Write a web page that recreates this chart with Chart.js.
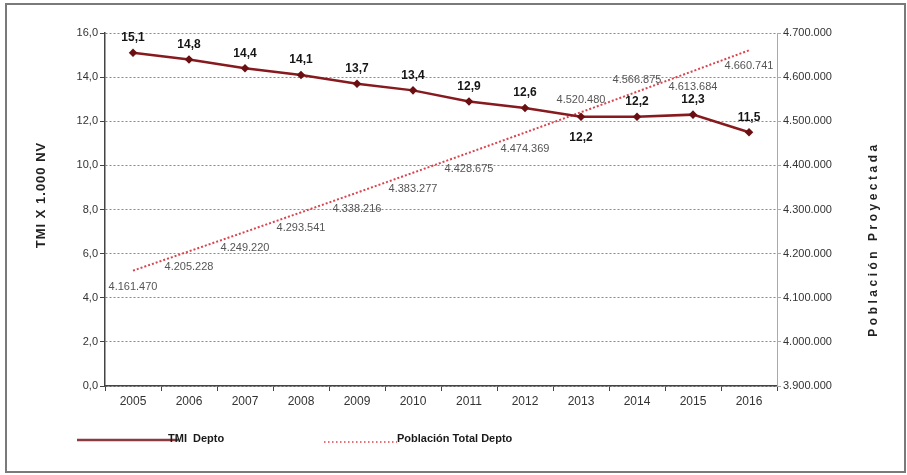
<!DOCTYPE html>
<html>
<head>
<meta charset="utf-8">
<script src="https://cdn.jsdelivr.net/npm/chart.js@4.4.1/dist/chart.umd.min.js"></script>
<style>
  html, body { margin: 0; padding: 0; background: #fff; }
  #wrap { width: 907px; height: 475px; }
</style>
</head>
<body>
<div id="wrap"><canvas id="tmiChart" width="907" height="475"></canvas></div>
<script>
const years = ['2005','2006','2007','2008','2009','2010','2011','2012','2013','2014','2015','2016'];

const tmiDepto = [15.1, 14.8, 14.4, 14.1, 13.7, 13.4, 12.9, 12.6, 12.2, 12.2, 12.3, 11.5];

const poblacionTotal = [
    4161470, 4205228, 4249220, 4293541, 4338216, 4383277,
    4428675, 4474369, 4520480, 4566875, 4613684, 4660741
];

const tmiTicks = { min: 0, max: 16, step: 2 };
const poblacionTicks = { min: 3900000, max: 4700000, step: 100000 };

// which points get their value written under / over the mark
const tmiLabelsBelow = [8];
const poblacionLabelsAbove = [8, 9];

const FONT = '"Liberation Sans", Arial, sans-serif';

function decimalComma(v) {
    return v.toFixed(1).replace('.', ',');
}

function thousandDots(v) {
    return String(Math.round(v)).replace(/\B(?=(\d{3})+(?!\d))/g, '.');
}

// white background + grey frame
const framePlugin = {
    id: 'frame',
    beforeDraw(chart) {
        const ctx = chart.ctx;
        ctx.save();
        ctx.fillStyle = '#fff';
        ctx.fillRect(0, 0, chart.width, chart.height);
        ctx.strokeStyle = '#7a7a7a';
        ctx.lineWidth = 2;
        ctx.strokeRect(6, 4, 899, 468);
        ctx.restore();
    }
};

// value labels on both lines
const valueLabels = {
    id: 'valueLabels',
    afterDatasetsDraw(chart) {
        const ctx = chart.ctx;
        ctx.save();
        ctx.textAlign = 'center';
        ctx.textBaseline = 'middle';

        const popMeta = chart.getDatasetMeta(1);
        ctx.font = '11px ' + FONT;
        ctx.fillStyle = '#555';
        popMeta.data.forEach((pt, i) => {
            const dy = poblacionLabelsAbove.includes(i) ? -12 : 16;
            ctx.fillText(thousandDots(poblacionTotal[i]), pt.x, pt.y + dy);
        });

        const tmiMeta = chart.getDatasetMeta(0);
        ctx.font = 'bold 12px ' + FONT;
        ctx.fillStyle = '#151515';
        tmiMeta.data.forEach((pt, i) => {
            const dy = tmiLabelsBelow.includes(i) ? 21 : -15;
            ctx.fillText(decimalComma(tmiDepto[i]), pt.x, pt.y + dy);
        });
        ctx.restore();
    }
};

// rotated axis titles and the legend under the plot
const sideText = {
    id: 'sideText',
    afterDraw(chart) {
        const ctx = chart.ctx;
        ctx.save();
        ctx.fillStyle = '#222';
        ctx.textAlign = 'center';
        ctx.textBaseline = 'middle';

        ctx.save();
        ctx.translate(41, 195);
        ctx.rotate(-Math.PI / 2);
        ctx.font = 'bold 13px ' + FONT;
        ctx.letterSpacing = '1px';
        ctx.fillText('TMI X 1.000 NV', 0, 0);
        ctx.restore();

        ctx.save();
        ctx.translate(874, 239);
        ctx.rotate(-Math.PI / 2);
        ctx.font = 'bold 12px ' + FONT;
        ctx.letterSpacing = '3.5px';
        ctx.fillText('Población Proyectada', 0, 0);
        ctx.restore();

        // legend
        const popDs = chart.data.datasets[1];
        const ly = 440;

        ctx.strokeStyle = '#8a3b3f';
        ctx.lineWidth = 2.5;
        ctx.beginPath();
        ctx.moveTo(77, ly);
        ctx.lineTo(178, ly);
        ctx.stroke();

        ctx.strokeStyle = popDs.borderColor;
        ctx.lineWidth = 1.5;
        ctx.setLineDash([1.5, 2.5]);
        ctx.beginPath();
        ctx.moveTo(324, ly + 2);
        ctx.lineTo(397, ly + 2);
        ctx.stroke();
        ctx.setLineDash([]);

        ctx.textAlign = 'left';
        ctx.font = 'bold 11px ' + FONT;
        ctx.fillStyle = '#1a1a1a';
        ctx.fillText('TMI  Depto', 168, ly - 1);
        ctx.fillText('Población Total Depto', 397, ly - 1);
        ctx.restore();
    }
};

new Chart(document.getElementById('tmiChart').getContext('2d'), {
    type: 'line',
    data: {
        labels: years,
        datasets: [{
            label: 'TMI Depto',
            data: tmiDepto,
            yAxisID: 'y',
            borderColor: '#861a1e',
            borderWidth: 2.5,
            pointStyle: 'rectRot',
            pointRadius: 2.5,
            pointBackgroundColor: '#6a0f12',
            pointBorderColor: '#6a0f12',
            tension: 0
        }, {
            label: 'Población Total Depto',
            data: poblacionTotal,
            yAxisID: 'y1',
            borderColor: '#d9454f',
            borderWidth: 2,
            borderDash: [2, 2],
            pointRadius: 0,
            tension: 0
        }]
    },
    options: {
        responsive: false,
        animation: false,
        layout: {
            padding: { top: 33, left: 0, right: 0, bottom: 61 }
        },
        plugins: {
            legend: { display: false },
            tooltip: { enabled: false }
        },
        scales: {
            x: {
                offset: true,
                grid: {
                    offset: true,
                    drawOnChartArea: false,
                    drawTicks: true,
                    tickLength: 5,
                    tickColor: '#444'
                },
                border: { display: true, color: '#444', width: 1.5 },
                ticks: {
                    color: '#333',
                    padding: 3,
                    maxRotation: 0,
                    font: { family: FONT, size: 12 }
                },
                afterFit(scale) { scale.height = 28; }
            },
            y: {
                position: 'left',
                min: tmiTicks.min,
                max: tmiTicks.max,
                grid: {
                    color: '#8a8a8a',
                    lineWidth: 1,
                    tickLength: 5,
                    tickColor: '#444'
                },
                // dash here applies to the horizontal grid lines
                border: { display: true, color: '#444', width: 1.5, dash: [2, 2] },
                ticks: {
                    stepSize: tmiTicks.step,
                    color: '#333',
                    padding: 2,
                    font: { family: FONT, size: 11 },
                    callback: v => decimalComma(v)
                },
                afterFit(scale) { scale.width = 105; }
            },
            y1: {
                position: 'right',
                min: poblacionTicks.min,
                max: poblacionTicks.max,
                grid: {
                    drawOnChartArea: false,
                    tickLength: 4,
                    tickColor: '#aaa'
                },
                border: { display: true, color: '#aaa', width: 1 },
                ticks: {
                    stepSize: poblacionTicks.step,
                    color: '#333',
                    padding: 2,
                    font: { family: FONT, size: 11 },
                    callback: v => thousandDots(v)
                },
                afterFit(scale) { scale.width = 130; }
            }
        }
    },
    plugins: [framePlugin, valueLabels, sideText]
});
</script>
</body>
</html>
